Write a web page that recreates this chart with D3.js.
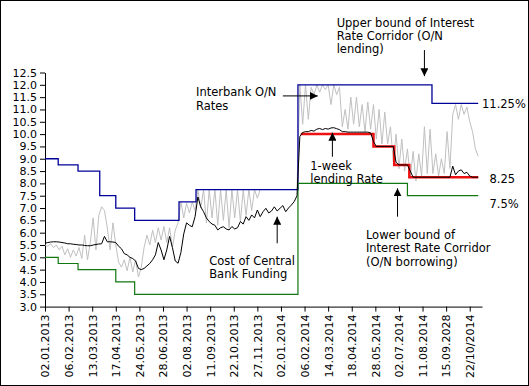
<!DOCTYPE html>
<html>
<head>
<meta charset="utf-8">
<script src="https://cdn.jsdelivr.net/npm/d3@7"></script>
<style>
  body { margin: 0; background: #fff; }
  #chart text { font-family: "DejaVu Sans", Verdana, sans-serif; }
</style>
</head>
<body>
<div id="chart"></div>
<script>
// Axis labels, one every 25 business days
const dateLabels = ["02.01.2013", "06.02.2013", "13.03.2013", "17.04.2013", "24.05.2013",
  "28.06.2013", "02.08.2013", "11.09.2013", "22.10.2013", "27.11.2013", "02.01.2014",
  "06.02.2014", "14.03.2014", "18.04.2014", "28.05.2014", "02.07.2014", "11.08.2014",
  "15.09.2028", "22/10/2014"];
const labelStep = 25;
const dayCount = 463;
const yTicks = d3.range(3, 12.51, 0.5);

// Policy rates: day index where a rate starts, and the rate
const upperDays  = [0, 14, 35, 58, 75, 95, 142, 160, 268, 410, 459];
const upperRates = [9.0, 8.75, 8.5, 7.5, 7.0, 6.5, 7.25, 7.75, 12.0, 11.25, 11.25];
const lowerDays  = [0, 14, 35, 75, 95, 268, 384, 459];
const lowerRates = [5.0, 4.75, 4.5, 4.0, 3.5, 8.0, 7.5, 7.5];
const weeklyDays  = [271, 348, 370, 386, 459];
const weeklyRates = [10.0, 9.5, 8.75, 8.25, 8.25];

// Market rates, read every 3rd business day
const sampleStep = 3;
const interbankRate = [
  5.50, 5.45, 5.55, 5.40, 5.50, 5.30, 5.45, 5.10, 5.35, 5.00, 5.30, 5.05, 5.40, 4.95,
  5.90, 4.90, 5.60, 6.60, 5.30, 6.70, 7.05, 6.90, 6.20, 5.30, 6.40, 5.50, 4.80, 4.60,
  4.90, 4.45, 5.00, 4.40, 4.90, 4.20, 4.60, 5.40, 5.90, 5.50, 6.10, 5.60, 6.20, 5.70,
  6.25, 5.60, 6.20, 5.40, 6.10, 6.40, 7.25, 6.60, 7.20, 6.80, 7.25, 6.90, 7.75, 7.00,
  7.75, 6.40, 7.75, 6.60, 7.75, 6.30, 7.75, 6.50, 7.75, 6.20, 7.75, 6.60, 7.75, 6.45,
  7.75, 6.70, 7.75, 6.90, 7.75, 7.40, 7.75, 7.75, 7.75, 7.75, 7.75, 7.75, 7.75, 7.75,
  7.75, 7.75, 7.75, 7.75, 7.75, 7.75, 12.00, 10.40, 12.00, 10.60, 11.90, 11.60, 12.00, 11.70,
  12.00, 11.80, 12.00, 11.20, 12.00, 11.60, 11.90, 10.30, 11.00, 10.20, 11.50, 10.40, 11.50, 10.30,
  11.20, 10.10, 11.30, 10.20, 11.20, 9.80, 11.00, 9.60, 10.90, 9.60, 10.30, 8.90, 10.00, 8.60,
  9.80, 8.50, 9.40, 8.20, 9.30, 8.10, 9.20, 8.30, 10.30, 8.40, 10.20, 8.40, 9.20, 8.30,
  9.00, 8.40, 10.10, 8.60, 10.80, 11.20, 10.60, 11.20, 10.80, 11.10, 10.50, 10.10, 9.40, 9.10
];
const fundingCost = [
  5.57, 5.60, 5.62, 5.63, 5.63, 5.62, 5.60, 5.58, 5.55, 5.55, 5.53, 5.52, 5.50, 5.50,
  5.48, 5.47, 5.47, 5.50, 5.52, 5.54, 5.55, 5.85, 5.63, 5.63, 5.62, 5.60, 5.45, 5.35,
  5.15, 5.10, 5.00, 4.95, 4.85, 4.55, 4.50, 4.55, 4.65, 4.75, 4.90, 5.10, 5.60, 5.30,
  4.90, 5.30, 5.85, 5.40, 4.85, 4.76, 5.20, 5.95, 6.40, 6.30, 6.24, 6.65, 7.45, 7.05,
  6.85, 6.60, 6.45, 6.35, 6.30, 6.11, 6.20, 6.24, 6.15, 6.11, 6.25, 6.15, 6.20, 6.45,
  6.35, 6.65, 6.50, 6.72, 6.60, 6.92, 6.65, 6.85, 6.99, 6.80, 6.88, 7.05, 6.88, 6.99,
  7.10, 6.85, 7.00, 7.12, 7.26, 7.50, 9.90, 10.07, 10.10, 10.10, 10.15, 10.12, 10.20, 10.23,
  10.18, 10.23, 10.20, 10.25, 10.26, 10.22, 10.18, 10.10, 10.10, 10.08, 10.08, 10.08, 10.08, 10.08,
  10.08, 10.08, 10.08, 10.05, 9.70, 9.50, 9.50, 9.50, 9.50, 9.50, 9.50, 9.50, 8.85, 8.75,
  8.75, 8.75, 8.75, 8.50, 8.25, 8.25, 8.25, 8.25, 8.25, 8.25, 8.25, 8.25, 8.25, 8.25,
  8.25, 8.25, 8.25, 8.25, 8.70, 8.35, 8.50, 8.55, 8.40, 8.45, 8.30, 8.25, 8.25, 8.25
];

// Annotations, placed in data units (day index, rate)
const notes = [
  { day: 309, rate: 14.36, lines: ["Upper bound of Interest", "Rate Corridor (O/N", "lending)"] },
  { day: 160, rate: 11.53, lines: ["Interbank O/N", "Rates"] },
  { day: 281, rate: 8.54, lines: ["1-week", "lending Rate"] },
  { day: 340, rate: 5.74, lines: ["Lower bound of", "Interest Rate Corridor", "(O/N borrowing)"] },
  { day: 174, rate: 4.69, lines: ["Cost of Central", "Bank Funding"] },
  { day: 463, rate: 11.04, lines: ["11.25%"] },
  { day: 471, rate: 8.02, lines: ["8.25"] },
  { day: 471, rate: 7.0, lines: ["7.5%"] }
];
const arrows = [
  { d1: 402, r1: 13.41, d2: 402, r2: 12.35 },
  { d1: 252, r1: 11.55, d2: 289, r2: 11.55 },
  { d1: 304.5, r1: 9.08, d2: 304.5, r2: 10.06 },
  { d1: 373.5, r1: 6.65, d2: 373.5, r2: 7.80 },
  { d1: 246, r1: 5.57, d2: 246, r2: 6.65 }
];

const W = 529, H = 386;
const margin = { top: 72.5, right: 47, bottom: 79.4, left: 45 },
      width = W - margin.left - margin.right,
      height = H - margin.top - margin.bottom;

const root = d3.select("#chart").append("svg")
    .attr("width", W)
    .attr("height", H);

// outer frame
root.append("rect")
    .attr("x", 0.5).attr("y", 0.5)
    .attr("width", W - 1).attr("height", H - 1)
    .attr("fill", "none").attr("stroke", "#000");

const svg = root.append("g")
    .attr("transform", `translate(${margin.left},${margin.top})`);

const x = d3.scaleLinear().domain([0, dayCount]).range([0, width]);
const y = d3.scaleLinear().domain([3, 12.5]).range([height, 0]);

// Axes
const xAxis = svg.append("g")
    .attr("transform", `translate(0,${height})`)
    .call(d3.axisBottom(x)
        .tickValues(dateLabels.map((d, i) => i * labelStep))
        .tickFormat((d, i) => dateLabels[i])
        .tickSize(5).tickSizeOuter(0));
xAxis.selectAll("text")
    .attr("transform", "rotate(-90)")
    .attr("x", -8).attr("y", 0).attr("dy", "0.35em")
    .style("text-anchor", "end");

svg.append("g")
    .call(d3.axisLeft(y)
        .tickValues(yTicks)
        .tickFormat(d3.format(".1f"))
        .tickSize(5).tickSizeOuter(0)
        .tickPadding(3));

svg.selectAll(".tick text").attr("font-size", 11).attr("fill", "#000");
svg.selectAll(".domain, .tick line").attr("stroke", "#000");

// Lines
const stepLine = d3.line().x(d => x(d[0])).y(d => y(d[1])).curve(d3.curveStepAfter);
const plainLine = d3.line().x(d => x(d[0])).y(d => y(d[1]));

const pairs = (days, rates) => days.map((d, i) => [d, rates[i]]);
const sampled = vals => vals.map((v, i) => [i * sampleStep, v]);

svg.append("path").datum(sampled(interbankRate))
    .attr("fill", "none").attr("stroke", "#c0c0c0").attr("stroke-width", 1)
    .attr("d", plainLine);

svg.append("path").datum(pairs(upperDays, upperRates))
    .attr("fill", "none").attr("stroke", "#000099").attr("stroke-width", 1.3)
    .attr("d", stepLine);

svg.append("path").datum(pairs(lowerDays, lowerRates))
    .attr("fill", "none").attr("stroke", "#117711").attr("stroke-width", 1.2)
    .attr("d", stepLine);

svg.append("path").datum(pairs(weeklyDays, weeklyRates))
    .attr("fill", "none").attr("stroke", "#ee1111").attr("stroke-width", 2.5)
    .attr("d", stepLine);

svg.append("path").datum(sampled(fundingCost))
    .attr("fill", "none").attr("stroke", "#000").attr("stroke-width", 1)
    .attr("d", plainLine);

// Annotations
root.append("defs").append("marker")
    .attr("id", "head")
    .attr("viewBox", "0 0 10 10")
    .attr("refX", 10).attr("refY", 5)
    .attr("markerWidth", 8).attr("markerHeight", 8)
    .attr("markerUnits", "userSpaceOnUse")
    .attr("orient", "auto")
  .append("path")
    .attr("d", "M0,0L10,5L0,10Z")
    .attr("fill", "#000");

svg.selectAll(".arrow")
    .data(arrows)
    .join("line")
    .attr("class", "arrow")
    .attr("x1", d => x(d.d1)).attr("y1", d => y(d.r1))
    .attr("x2", d => x(d.d2)).attr("y2", d => y(d.r2))
    .attr("stroke", "#000").attr("stroke-width", 1)
    .attr("marker-end", "url(#head)");

const note = svg.selectAll(".note")
    .data(notes)
    .join("text")
    .attr("class", "note")
    .attr("x", d => x(d.day))
    .attr("y", d => y(d.rate))
    .attr("font-size", 11.5)
    .attr("fill", "#000");

note.selectAll("tspan")
    .data(d => d.lines.map(t => ({ t, day: d.day })))
    .join("tspan")
    .attr("x", d => x(d.day))
    .attr("dy", (d, i) => i === 0 ? 0 : 13.4)
    .text(d => d.t);
</script>
</body>
</html>
